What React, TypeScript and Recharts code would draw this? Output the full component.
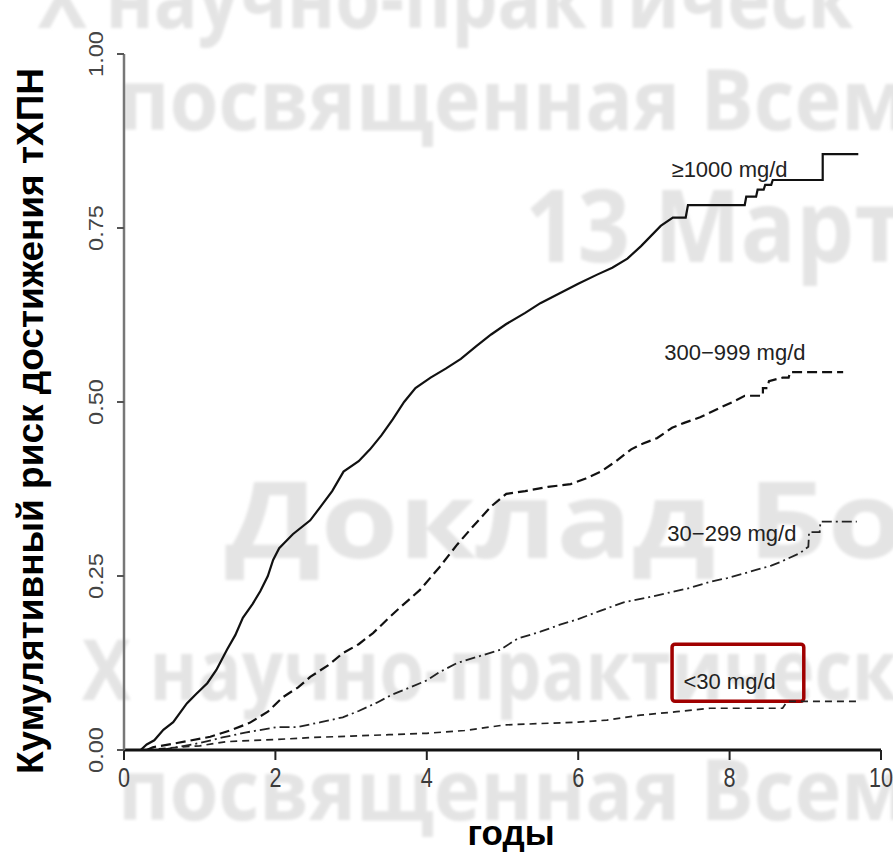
import React from 'react';
import { LineChart, Line, XAxis, YAxis, ReferenceDot, ReferenceArea, Label } from 'recharts';

// years since start / cumulative risk
const xTicks = [0, 2, 4, 6, 8, 10];
const yTicks = [0, 0.25, 0.5, 0.75, 1];

const groupLabels = ['≥1000 mg/d', '300−999 mg/d', '30−299 mg/d', '<30 mg/d'];

const risk1000: [number, number][] = [
  [0, 0], [0.22, 0], [0.3, 0.008], [0.4, 0.014], [0.52, 0.029], [0.65, 0.04], [0.83, 0.067],
  [0.95, 0.08], [1.1, 0.096], [1.22, 0.115], [1.36, 0.144], [1.47, 0.165], [1.57, 0.19],
  [1.7, 0.21], [1.8, 0.228], [1.9, 0.25], [1.97, 0.273], [2.05, 0.29], [2.23, 0.31],
  [2.46, 0.33], [2.6, 0.35], [2.75, 0.372], [2.9, 0.4], [3.1, 0.415], [3.25, 0.432],
  [3.4, 0.452], [3.55, 0.475], [3.7, 0.5], [3.85, 0.52], [4.05, 0.535], [4.25, 0.548],
  [4.45, 0.562], [4.65, 0.58], [4.85, 0.597], [5.05, 0.612], [5.3, 0.628], [5.5, 0.642],
  [5.75, 0.656], [6.0, 0.67], [6.25, 0.683], [6.45, 0.693], [6.65, 0.706], [6.83, 0.724],
  [7.09, 0.753], [7.25, 0.765], [7.42, 0.765], [7.45, 0.783], [8.2, 0.783], [8.22, 0.795],
  [8.35, 0.795], [8.37, 0.805], [8.45, 0.805], [8.47, 0.812], [8.55, 0.812], [8.57, 0.819],
  [9.23, 0.819], [9.23, 0.856], [9.7, 0.856],
];

const risk300: [number, number][] = [
  [0.3, 0], [0.38, 0.004], [0.7, 0.01], [1.14, 0.019], [1.4, 0.028], [1.66, 0.039],
  [1.9, 0.055], [2.1, 0.076], [2.3, 0.09], [2.46, 0.105], [2.7, 0.122], [2.89, 0.139],
  [3.1, 0.152], [3.29, 0.168], [3.5, 0.19], [3.65, 0.205], [3.91, 0.23], [4.17, 0.263],
  [4.4, 0.295], [4.6, 0.32], [4.85, 0.35], [5.05, 0.368], [5.3, 0.372], [5.6, 0.378],
  [5.9, 0.382], [6.1, 0.39], [6.3, 0.4], [6.5, 0.415], [6.7, 0.432], [6.85, 0.44],
  [7.04, 0.448], [7.24, 0.463], [7.4, 0.47], [7.61, 0.478], [7.9, 0.493], [8.04, 0.5],
  [8.2, 0.509], [8.44, 0.509], [8.44, 0.52], [8.5, 0.52], [8.52, 0.53], [8.7, 0.535],
  [8.78, 0.535], [8.8, 0.543], [9.5, 0.543],
];

const risk30: [number, number][] = [
  [0.5, 0], [0.7, 0.004], [1.0, 0.01], [1.3, 0.018], [1.6, 0.025], [2.02, 0.033],
  [2.29, 0.033], [2.6, 0.04], [2.89, 0.047], [3.1, 0.056], [3.34, 0.068], [3.55, 0.08],
  [3.78, 0.09], [4.0, 0.1], [4.17, 0.112], [4.4, 0.125], [4.7, 0.135], [4.97, 0.144],
  [5.2, 0.16], [5.5, 0.17], [5.76, 0.18], [6.0, 0.188], [6.29, 0.2], [6.6, 0.212],
  [6.95, 0.22], [7.2, 0.226], [7.48, 0.233], [7.75, 0.242], [7.97, 0.247], [8.2, 0.254],
  [8.36, 0.259], [8.55, 0.265], [8.67, 0.27], [8.93, 0.283], [9.04, 0.292], [9.05, 0.313],
  [9.19, 0.313], [9.2, 0.328], [9.68, 0.328],
];

const riskLow: [number, number][] = [
  [0.3, 0], [0.6, 0.003], [1.0, 0.006], [1.35, 0.012], [2.0, 0.015], [2.5, 0.018],
  [3.0, 0.02], [3.5, 0.022], [4.0, 0.024], [4.5, 0.028], [5.03, 0.036], [5.5, 0.038],
  [6.0, 0.04], [6.38, 0.043], [6.82, 0.05], [7.3, 0.055], [7.74, 0.06], [8.7, 0.06],
  [8.76, 0.07], [9.72, 0.07],
];

// where each group name sits (years, risk)
const labelSpots: [number, number][] = [[8.0, 0.834], [8.07, 0.572], [8.03, 0.312], [8.0, 0.099]];

const toRows = (pts: [number, number][]) => pts.map(([t, r]) => ({ t, r }));

const SANS = "'Liberation Sans', Arial, sans-serif";

const XTick = ({ x, y, payload }: any) => (
  <text
    transform={`translate(${x},${y + 27}) scale(0.9,1.15)`}
    textAnchor="middle"
    fontSize={24}
    fontFamily={SANS}
    fill="#3a3a3a"
  >
    {payload.value}
  </text>
);

const YTick = ({ x, y, payload }: any) => (
  <text
    transform={`translate(${x - 14},${y}) rotate(-90) scale(1.12,1)`}
    textAnchor="middle"
    fontSize={21}
    fontFamily={SANS}
    fill="#444"
  >
    {Number(payload.value).toFixed(2)}
  </text>
);

const YTitle = () => (
  <text
    transform="translate(43,421) rotate(-90)"
    textAnchor="middle"
    fontSize={36}
    fontWeight="bold"
    fontFamily={SANS}
    fill="#000"
    textLength={706}
    lengthAdjust="spacingAndGlyphs"
  >
    Кумулятивный риск достижения тХПН
  </text>
);

const XTitle = () => (
  <text x={511} y={845} textAnchor="middle" fontSize={35} fontWeight="bold" fontFamily={SANS} fill="#000">
    годы
  </text>
);

const groupText = (text: string) => (p: any) => (
  <text x={p.cx} y={p.cy} dy="0.35em" textAnchor="middle" fontSize={22} fontFamily={SANS} fill="#222">
    {text}
  </text>
);

const Watermark = () => (
  <svg width={893} height={856} style={{ position: 'absolute', left: 0, top: 0 }}>
    <defs>
      <filter id="soft">
        <feGaussianBlur stdDeviation="1.8" />
      </filter>
    </defs>
    <g filter="url(#soft)" fill="#e4e4e4" fontFamily="'Open Sans', 'DejaVu Sans', sans-serif" fontWeight="bold">
      <text x={38} y={28} fontSize={84} textLength={815} lengthAdjust="spacingAndGlyphs">X научно-практическ</text>
      <text x={118} y={130} fontSize={84} textLength={790} lengthAdjust="spacingAndGlyphs">посвященная Всем</text>
      <text x={525} y={262} fontSize={100} textLength={380} lengthAdjust="spacingAndGlyphs">13 Март</text>
      <text x={225} y={558} fontSize={105} textLength={680} lengthAdjust="spacingAndGlyphs">Доклад Бо</text>
      <text x={82} y={700} fontSize={84} textLength={815} lengthAdjust="spacingAndGlyphs">X научно-практическ</text>
      <text x={118} y={820} fontSize={84} textLength={790} lengthAdjust="spacingAndGlyphs">посвященная Всем</text>
    </g>
  </svg>
);

export default function App() {
  return (
    <div style={{ position: 'absolute', left: 0, top: 0, width: 893, height: 856, background: '#fff', overflow: 'hidden' }}>
      <Watermark />
      <div style={{ position: 'absolute', left: 0, top: 0 }}>
        <LineChart width={893} height={856} margin={{ top: 54, right: 12, bottom: 0, left: 0 }}>
          <XAxis
            dataKey="t"
            type="number"
            domain={[0, 10]}
            ticks={xTicks}
            height={106}
            tickSize={10}
            tickMargin={0}
            axisLine={{ stroke: '#111', strokeWidth: 3 }}
            tickLine={{ stroke: '#222', strokeWidth: 2 }}
            tick={<XTick />}
            allowDataOverflow
          >
            <Label content={XTitle} />
          </XAxis>
          <YAxis
            type="number"
            domain={[0, 1]}
            ticks={yTicks}
            width={124}
            tickSize={7}
            tickMargin={0}
            axisLine={{ stroke: '#777', strokeWidth: 2.5 }}
            tickLine={{ stroke: '#555', strokeWidth: 2 }}
            tick={<YTick />}
          >
            <Label content={YTitle} />
          </YAxis>
          <Line data={toRows(riskLow)} dataKey="r" type="linear" stroke="#222" strokeWidth={1.7}
            strokeDasharray="7 5" dot={false} activeDot={false} isAnimationActive={false} />
          <Line data={toRows(risk30)} dataKey="r" type="linear" stroke="#222" strokeWidth={1.8}
            strokeDasharray="10 4 2 4" dot={false} activeDot={false} isAnimationActive={false} />
          <Line data={toRows(risk300)} dataKey="r" type="linear" stroke="#111" strokeWidth={2.2}
            strokeDasharray="10 5" dot={false} activeDot={false} isAnimationActive={false} />
          <Line data={toRows(risk1000)} dataKey="r" type="linear" stroke="#111" strokeWidth={2.2}
            dot={false} activeDot={false} isAnimationActive={false} />
          <ReferenceArea
            x1={7.24}
            x2={8.98}
            y1={0.07}
            y2={0.152}
            ifOverflow="visible"
            shape={(p: any) => (
              <rect x={p.x} y={p.y} width={p.width} height={p.height} rx={3} fill="none" stroke="#a00000" strokeWidth={3.5} />
            )}
          />
          {groupLabels.map((g, i) => (
            <ReferenceDot key={g} x={labelSpots[i][0]} y={labelSpots[i][1]} r={0} ifOverflow="visible" shape={groupText(g)} />
          ))}
        </LineChart>
      </div>
    </div>
  );
}
